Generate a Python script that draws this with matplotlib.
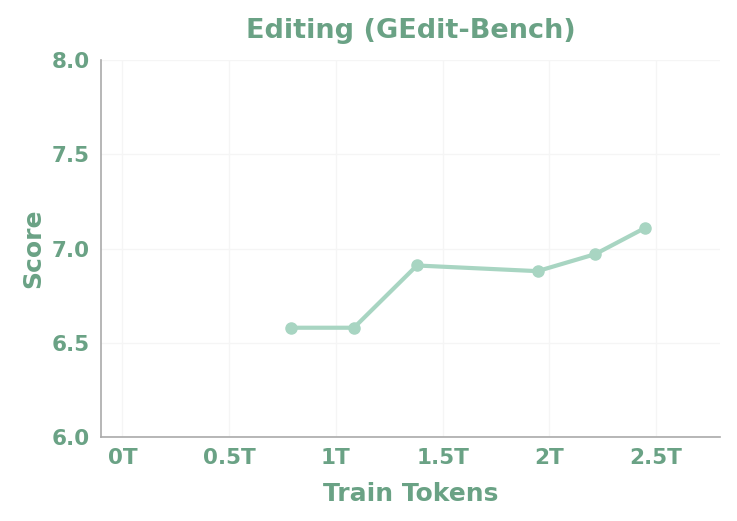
import numpy as np
import matplotlib.pyplot as plt

tokens = [0.79, 1.085, 1.38, 1.945, 2.215, 2.45]
scores = [6.58, 6.58, 6.91, 6.88, 6.97, 7.11]
xticks = [0, 0.5, 1, 1.5, 2, 2.5]
xtick_labels = ["0T", "0.5T", "1T", "1.5T", "2T", "2.5T"]
yticks = [6.0, 6.5, 7.0, 7.5, 8.0]

text_color = "#6aa285"
line_color = "#a8d5c2"

fig = plt.figure(figsize=(7.37, 5.21), dpi=100)
ax = fig.add_axes([0.137, 0.161, 0.840, 0.724])

ax.plot(tokens, scores, color=line_color, linewidth=3, marker="o", markersize=8, zorder=3)

ax.set_xlim(-0.1, 2.8)
ax.set_ylim(6.0, 8.0)
ax.set_xticks(xticks)
ax.set_xticklabels(xtick_labels)
ax.set_yticks(yticks)
ax.set_yticklabels([f"{v:.1f}" for v in yticks])

ax.grid(True, color="#f5f5f5", linewidth=1)
ax.set_axisbelow(True)
for side in ["top", "right"]:
    ax.spines[side].set_visible(False)
for side in ["left", "bottom"]:
    ax.spines[side].set_color("#aaaaaa")
    ax.spines[side].set_linewidth(1.2)

ax.tick_params(length=0, pad=8, labelsize=15.5, labelcolor=text_color)
for lab in ax.get_xticklabels() + ax.get_yticklabels():
    lab.set_fontweight("bold")

ax.set_xlabel("Train Tokens", fontsize=18, fontweight="bold", color=text_color, labelpad=10)
ax.set_ylabel("Score", fontsize=18, fontweight="bold", color=text_color, labelpad=5)
ax.set_title("Editing (GEdit-Bench)", fontsize=19.5, fontweight="bold", color=text_color, pad=16)

fig.savefig("out.png", dpi=100)
